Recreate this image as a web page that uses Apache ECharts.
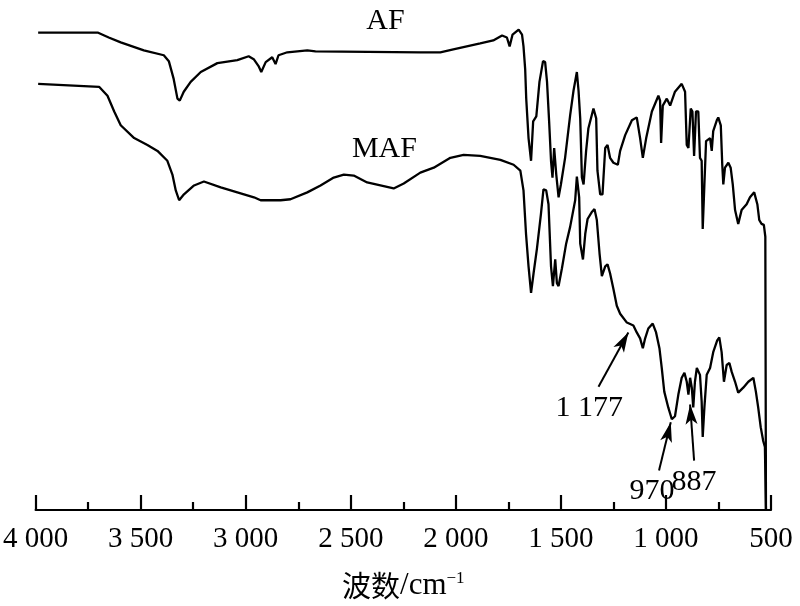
<!DOCTYPE html>
<html>
<head>
<meta charset="utf-8">
<script src="https://cdn.jsdelivr.net/npm/echarts@6/dist/echarts.min.js"></script>
<style>html,body{margin:0;padding:0;background:#fff}#c{width:800px;height:606px}</style>
</head>
<body>
<div id="c"></div>
<script>
// Wavenumber axis ticks (cm^-1)
const tickValues = [4000, 3500, 3000, 2500, 2000, 1500, 1000, 500];
const tickLabels = ['4 000', '3 500', '3 000', '2 500', '2 000', '1 500', '1 000', '500'];

// AF spectrum (wavenumber, transmittance a.u.)
const afWavenumbers = [3988,3705,3652,3595,3485,3390,3366,3343,3325,3314,3295,3262,3214,3135,3040,2986,2962,2939,2926,2905,2874,2858,2844,2802,2707,2668,2169,2074,2012,1884,1822,1780,1757,1744,1730,1701,1685,1678,1670,1665,1654,1642,1632,1617,1602,1585,1575,1566,1556,1547,1540,1532,1522,1511,1500,1480,1456,1440,1424,1416,1408,1400,1392,1380,1369,1345,1332,1326,1313,1302,1289,1278,1266,1250,1229,1218,1194,1162,1139,1123,1110,1094,1067,1036,1028,1023,1015,996,980,957,925,909,901,893,882,874,866,857,846,838,830,825,817,809,790,782,775,758,751,739,732,727,719,703,692,682,671,656,640,616,600,580,565,556,545,534,527,524];
const afValues = [484,484,479,474,466,461,455,437,417,415,424,434,444,453,456,460,457,450,444,454,459,452,461,464,466,465,464,464,467,473,476,481,479,470,482,487,482,470,447,417,377,354,394,399,434,455,454,434,394,354,337,367,340,317,330,357,400,425,444,425,397,337,330,364,387,407,397,344,320,320,367,370,357,352,350,364,380,395,398,377,357,377,404,420,415,372,410,417,410,424,432,424,370,367,407,404,359,404,404,357,354,285,330,374,377,364,384,395,398,390,350,330,347,352,347,330,304,290,304,310,317,322,310,294,290,289,277,0];

// MAF spectrum (wavenumber, transmittance a.u.)
const mafWavenumbers = [3988,3698,3658,3626,3595,3531,3468,3420,3373,3349,3333,3317,3294,3246,3199,3119,3040,2961,2929,2834,2787,2707,2644,2581,2533,2486,2422,2359,2296,2248,2169,2105,2026,1963,1884,1788,1725,1693,1678,1666,1654,1642,1630,1614,1595,1583,1570,1559,1547,1538,1527,1519,1511,1495,1475,1456,1432,1424,1413,1408,1395,1384,1373,1353,1340,1329,1316,1305,1289,1278,1266,1250,1234,1218,1186,1155,1139,1123,1110,1099,1084,1063,1047,1031,1020,1008,989,972,957,941,925,912,901,893,885,877,870,862,853,846,838,830,825,817,806,790,775,756,746,735,724,711,698,687,671,656,632,608,584,572,561,549,537,529,524];
const mafValues = [432,429,420,404,390,377,370,364,354,340,324,314,320,329,333,327,322,317,314,314,315,322,329,337,340,339,332,329,326,331,342,347,357,360,359,355,350,344,324,280,247,220,240,265,300,325,324,310,247,227,254,230,227,245,270,287,314,338,317,270,254,280,295,302,305,294,260,237,247,249,240,224,207,199,190,187,180,174,164,174,184,189,180,164,144,120,104,92,95,117,134,139,130,117,134,124,104,130,144,145,137,110,74,104,137,144,160,172,175,160,130,147,149,140,130,119,124,130,134,120,104,84,70,64,0];

// Curve labels (text, wavenumber, value)
const curveLabelTexts = ['AF', 'MAF'];
const curveLabelWn = [2335, 2340];
const curveLabelVal = [496, 366];

// Peak annotations: label, label position, arrow tail, arrow head
const annoTexts = ['1 177', '970', '887'];
const annoTextWn = [1365, 1066, 866];
const annoTextVal = [103, 19, 28];
const arrowTailWn = [1321, 1033, 866];
const arrowTailVal = [125, 40, 50];
const arrowHeadWn = [1179, 977, 885];
const arrowHeadVal = [180, 89, 107];

const serif = '"Liberation Serif","Times New Roman",serif';
const zip = (a, b) => a.map((v, i) => [v, b[i]]);

const chart = echarts.init(document.getElementById('c'), null, {renderer: 'canvas'});
chart.setOption({
  animation: false,
  backgroundColor: '#fff',
  grid: {left: 35, right: 29, top: 0, bottom: 89},
  xAxis: {
    type: 'value', min: 500, max: 4000, interval: 500, inverse: true,
    axisLine: {show: true, onZero: false, lineStyle: {color: '#000', width: 2.2}},
    axisTick: {show: true, inside: true, length: 15, lineStyle: {color: '#000', width: 2.2}},
    minorTick: {show: true, splitNumber: 2, length: 8, lineStyle: {color: '#000', width: 2.2}},
    splitLine: {show: false},
    axisLabel: {
      color: '#000', fontFamily: serif, fontSize: 29, margin: 15,
      formatter: v => { const i = tickValues.indexOf(v); return i >= 0 ? tickLabels[i] : ''; }
    },
    name: '{cn|波数}{en|/cm}{sup|−1}',
    nameLocation: 'middle', nameGap: 60,
    nameTextStyle: {
      rich: {
        cn: {fontFamily: '"Noto Sans CJK SC"', fontSize: 29, color: '#000'},
        en: {fontFamily: serif, fontSize: 31, color: '#000'},
        sup: {fontFamily: serif, fontSize: 17, color: '#000', verticalAlign: 'top', padding: [0, 0, 14, 0]}
      }
    }
  },
  yAxis: {type: 'value', min: 0, max: 517, show: false},
  series: [
    {
      type: 'line', name: 'AF', data: zip(afWavenumbers, afValues),
      showSymbol: false, lineStyle: {color: '#000', width: 2.3}, z: 3,
      markPoint: {
        symbol: 'circle', symbolSize: 0, silent: true,
        label: {show: true, position: 'inside', color: '#000', fontFamily: serif, fontSize: 30,
                formatter: p => p.name},
        data: curveLabelTexts.map((t, i) => ({name: t, coord: [curveLabelWn[i], curveLabelVal[i]]}))
          .concat(annoTexts.map((t, i) => ({name: t, coord: [annoTextWn[i], annoTextVal[i]]})))
      },
      markLine: {
        silent: true, symbol: ['none', 'arrow'], symbolSize: [9, 20],
        label: {show: false},
        lineStyle: {color: '#000', width: 2, type: 'solid'},
        data: arrowTailWn.map((w, i) => [
          {coord: [w, arrowTailVal[i]]},
          {coord: [arrowHeadWn[i], arrowHeadVal[i]]}
        ])
      }
    },
    {
      type: 'line', name: 'MAF', data: zip(mafWavenumbers, mafValues),
      showSymbol: false, lineStyle: {color: '#000', width: 2.3}, z: 3
    }
  ]
});
</script>
</body>
</html>
